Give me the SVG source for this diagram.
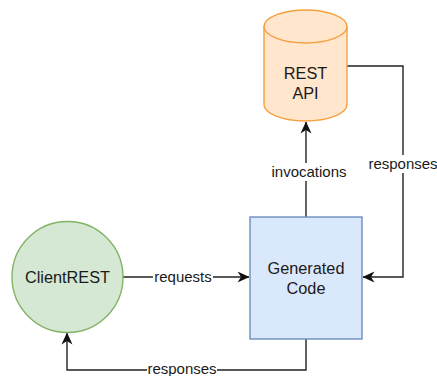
<svg xmlns="http://www.w3.org/2000/svg" width="437" height="376" viewBox="0 0 437 376">
  <defs>
    <style>
      .node-text { font-family: "Liberation Sans", Arial, sans-serif; font-size: 16.3px; fill: #1a1a1a; text-anchor: middle; }
      .edge { fill: none; stroke: #222; stroke-width: 1.4; }
      .edge-label { font-family: "Liberation Sans", Arial, sans-serif; font-size: 15px; fill: #1a1a1a; text-anchor: middle; }
      .label-bg { fill: #ffffff; }
    </style>
    <marker id="arrow" viewBox="0 0 12 12" refX="11.5" refY="6" markerWidth="12" markerHeight="12" markerUnits="userSpaceOnUse" orient="auto">
      <path d="M0,0.5 L12,6 L0,11.5 L3.5,6 Z" fill="#111"/>
    </marker>
  </defs>
  <rect width="437" height="376" fill="#ffffff"/>

  <g id="connectors">
    <!-- ClientREST -> Generated Code -->
    <g id="edge-requests">
      <path class="edge" d="M123,277 L249,277" marker-end="url(#arrow)"/>
      <rect class="label-bg" x="153" y="268" width="60" height="18"/>
      <text class="edge-label" x="183" y="282">requests</text>
    </g>
    <!-- Generated Code -> REST API -->
    <g id="edge-invocations">
      <path class="edge" d="M306,217 L306,122" marker-end="url(#arrow)"/>
      <rect class="label-bg" x="270" y="163" width="72" height="18"/>
      <text class="edge-label" x="309" y="177">invocations</text>
    </g>
    <!-- REST API -> Generated Code -->
    <g id="edge-responses-api">
      <path class="edge" d="M347,66 L403,66 L403,277 L363,277" marker-end="url(#arrow)"/>
      <rect class="label-bg" x="368" y="155" width="70" height="18"/>
      <text class="edge-label" x="403" y="169">responses</text>
    </g>
    <!-- Generated Code -> ClientREST -->
    <g id="edge-responses-client">
      <path class="edge" d="M306,339 L306,370 L67,370 L67,333" marker-end="url(#arrow)"/>
      <rect class="label-bg" x="147" y="362" width="70" height="16"/>
      <text class="edge-label" x="182" y="374">responses</text>
    </g>
  </g>

  <g id="rest-api">
    <path d="M264,26.5 A41.5,16.5 0 0 1 347,26.5 L347,104.5 A41.5,16.5 0 0 1 264,104.5 Z" fill="#ffe6cc" stroke="#f5a040" stroke-width="1.4"/>
    <path d="M264,26.5 A41.5,16.5 0 0 0 347,26.5" fill="none" stroke="#f5a040" stroke-width="1.4"/>
    <text class="node-text" x="305.5" y="79">REST</text>
    <text class="node-text" x="305.5" y="99">API</text>
  </g>

  <g id="generated-code">
    <rect x="250" y="217" width="112" height="122" fill="#dae8fc" stroke="#6c8ebf" stroke-width="1.4"/>
    <text class="node-text" x="306" y="274">Generated</text>
    <text class="node-text" x="306" y="294">Code</text>
  </g>

  <g id="client-rest">
    <circle cx="67.5" cy="277" r="55.5" fill="#d5e8d4" stroke="#82b366" stroke-width="1.4"/>
    <text class="node-text" x="67.5" y="283">ClientREST</text>
  </g>
</svg>
